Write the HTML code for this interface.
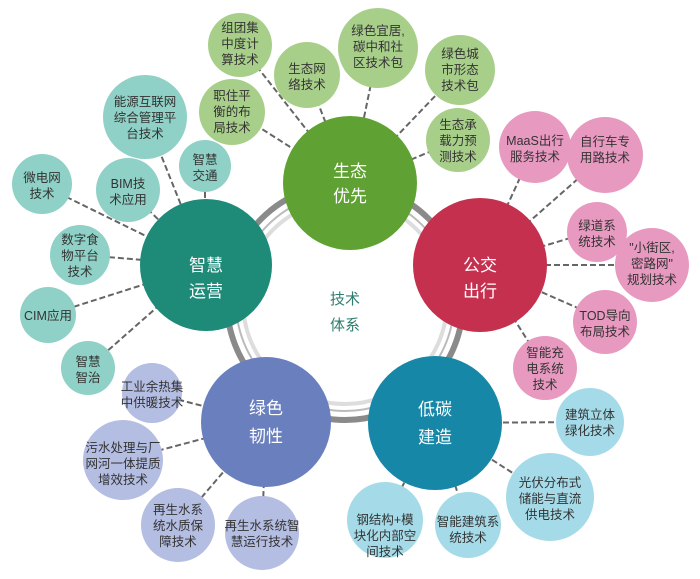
<!DOCTYPE html>
<html><head><meta charset="utf-8"><style>
html,body{margin:0;padding:0;background:#fff;}
svg{display:block}
text{font-family:"Liberation Sans","Noto Sans CJK SC",sans-serif;text-anchor:middle;}
.s{font-size:12.5px;fill:#333;}
.m{font-size:17px;fill:#fff;}
</style></head><body>
<svg width="700" height="579" viewBox="0 0 700 579">
<g stroke="#666" stroke-width="2" stroke-dasharray="6,3" fill="none">
<!-- green -->
<line x1="240" y1="45" x2="350" y2="185"/>
<line x1="307" y1="75" x2="350" y2="185"/>
<line x1="378" y1="50" x2="350" y2="185"/>
<line x1="460" y1="70" x2="350" y2="185"/>
<line x1="232" y1="110" x2="350" y2="185"/>
<line x1="458" y1="140" x2="350" y2="185"/>
<!-- teal -->
<line x1="145" y1="115" x2="205" y2="265"/>
<line x1="205" y1="165" x2="205" y2="265"/>
<line x1="128" y1="190" x2="205" y2="265"/>
<line x1="42" y1="185" x2="205" y2="265"/>
<line x1="82" y1="255" x2="205" y2="265"/>
<line x1="48" y1="315" x2="205" y2="265"/>
<line x1="88" y1="368" x2="205" y2="265"/>
<!-- pink -->
<line x1="535" y1="145" x2="480" y2="265"/>
<line x1="605" y1="155" x2="480" y2="265"/>
<line x1="597" y1="230" x2="480" y2="265"/>
<line x1="650" y1="265" x2="480" y2="265"/>
<line x1="605" y1="320" x2="480" y2="265"/>
<line x1="545" y1="368" x2="480" y2="265"/>
<!-- blue -->
<line x1="590" y1="422" x2="435" y2="423"/>
<line x1="550" y1="497" x2="435" y2="423"/>
<line x1="468" y1="525" x2="435" y2="423"/>
<line x1="385" y1="520" x2="435" y2="423"/>
<!-- lavender -->
<line x1="152" y1="393" x2="266" y2="422"/>
<line x1="123" y1="460" x2="266" y2="422"/>
<line x1="178" y1="525" x2="266" y2="422"/>
<line x1="262" y1="533" x2="266" y2="422"/>
</g>
<!-- ring -->
<circle cx="345" cy="302" r="118" fill="none" stroke="#8a8a8a" stroke-width="6"/>
<circle cx="345" cy="302" r="109" fill="none" stroke="#bbb" stroke-width="2"/>
<circle cx="345" cy="302" r="102" fill="none" stroke="#ddd" stroke-width="4"/>
<text x="345" y="304" style="font-size:15px;fill:#2e7d6e">技术</text>
<text x="345" y="330" style="font-size:15px;fill:#2e7d6e">体系</text>
<!-- main circles -->
<circle cx="350" cy="183" r="67" fill="#5fa233"/>
<text class="m" x="350" y="177">生态</text><text class="m" x="350" y="202">优先</text>
<circle cx="480" cy="265" r="67" fill="#c5304f"/>
<text class="m" x="480" y="271">公交</text><text class="m" x="480" y="297">出行</text>
<circle cx="206" cy="265" r="66" fill="#1e8a78"/>
<text class="m" x="206" y="271">智慧</text><text class="m" x="206" y="297">运营</text>
<circle cx="266" cy="422" r="65" fill="#6a7fbe"/>
<text class="m" x="266" y="414">绿色</text><text class="m" x="266" y="442">韧性</text>
<circle cx="435" cy="423" r="67" fill="#1787a8"/>
<text class="m" x="435" y="415">低碳</text><text class="m" x="435" y="443">建造</text>
<!-- green small -->
<g fill="#a8cf8a">
<circle cx="240" cy="45" r="32"/><circle cx="307" cy="75" r="33"/><circle cx="378" cy="48" r="40"/>
<circle cx="460" cy="70" r="35"/><circle cx="232" cy="112" r="33"/><circle cx="458" cy="140" r="32"/>
</g>
<g class="s">
<text class="s" x="240" y="32">组团集</text><text class="s" x="240" y="48">中度计</text><text class="s" x="240" y="64">算技术</text>
<text class="s" x="307" y="73">生态网</text><text class="s" x="307" y="89">络技术</text>
<text class="s" x="378" y="35">绿色宜居,</text><text class="s" x="378" y="51">碳中和社</text><text class="s" x="378" y="67">区技术包</text>
<text class="s" x="460" y="58">绿色城</text><text class="s" x="460" y="74">市形态</text><text class="s" x="460" y="90">技术包</text>
<text class="s" x="232" y="100">职住平</text><text class="s" x="232" y="116">衡的布</text><text class="s" x="232" y="132">局技术</text>
<text class="s" x="458" y="129">生态承</text><text class="s" x="458" y="145">载力预</text><text class="s" x="458" y="161">测技术</text>
</g>
<!-- teal small -->
<g fill="#8fd1c6">
<circle cx="145" cy="117" r="42"/><circle cx="205" cy="166" r="26"/><circle cx="128" cy="190" r="32"/>
<circle cx="42" cy="184" r="30"/><circle cx="80" cy="255" r="30"/><circle cx="48" cy="315" r="28"/><circle cx="88" cy="368" r="27"/>
</g>
<text class="s" x="145" y="106">能源互联网</text><text class="s" x="145" y="122">综合管理平</text><text class="s" x="145" y="138">台技术</text>
<text class="s" x="205" y="164">智慧</text><text class="s" x="205" y="180">交通</text>
<text class="s" x="128" y="188">BIM技</text><text class="s" x="128" y="204">术应用</text>
<text class="s" x="42" y="182">微电网</text><text class="s" x="42" y="198">技术</text>
<text class="s" x="80" y="244">数字食</text><text class="s" x="80" y="260">物平台</text><text class="s" x="80" y="276">技术</text>
<text class="s" x="48" y="320">CIM应用</text>
<text class="s" x="88" y="366">智慧</text><text class="s" x="88" y="382">智治</text>
<!-- pink small -->
<g fill="#e899c0">
<circle cx="535" cy="147" r="36"/><circle cx="605" cy="155" r="38"/><circle cx="597" cy="232" r="30"/>
<circle cx="652" cy="265" r="37"/><circle cx="605" cy="322" r="32"/><circle cx="545" cy="368" r="32"/>
</g>
<text class="s" x="535" y="145">MaaS出行</text><text class="s" x="535" y="161">服务技术</text>
<text class="s" x="605" y="146">自行车专</text><text class="s" x="605" y="162">用路技术</text>
<text class="s" x="597" y="230">绿道系</text><text class="s" x="597" y="246">统技术</text>
<text class="s" x="652" y="252">"小街区,</text><text class="s" x="652" y="268">密路网"</text><text class="s" x="652" y="284">规划技术</text>
<text class="s" x="605" y="320">TOD导向</text><text class="s" x="605" y="336">布局技术</text>
<text class="s" x="545" y="357">智能充</text><text class="s" x="545" y="373">电系统</text><text class="s" x="545" y="389">技术</text>
<!-- blue small -->
<g fill="#a5dbe8">
<circle cx="590" cy="422" r="34"/><circle cx="550" cy="497" r="44"/><circle cx="468" cy="525" r="33"/><circle cx="385" cy="520" r="38"/>
</g>
<text class="s" x="590" y="419">建筑立体</text><text class="s" x="590" y="435">绿化技术</text>
<text class="s" x="550" y="487">光伏分布式</text><text class="s" x="550" y="503">储能与直流</text><text class="s" x="550" y="519">供电技术</text>
<text class="s" x="468" y="526">智能建筑系</text><text class="s" x="468" y="542">统技术</text>
<text class="s" x="385" y="524">钢结构+模</text><text class="s" x="385" y="540">块化内部空</text><text class="s" x="385" y="556">间技术</text>
<!-- lavender small -->
<g fill="#b4bde2">
<circle cx="152" cy="393" r="30"/><circle cx="123" cy="460" r="40"/><circle cx="178" cy="525" r="37"/><circle cx="262" cy="533" r="37"/>
</g>
<text class="s" x="152" y="391">工业余热集</text><text class="s" x="152" y="407">中供暖技术</text>
<text class="s" x="123" y="452">污水处理与厂</text><text class="s" x="123" y="468">网河一体提质</text><text class="s" x="123" y="484">增效技术</text>
<text class="s" x="178" y="514">再生水系</text><text class="s" x="178" y="530">统水质保</text><text class="s" x="178" y="546">障技术</text>
<text class="s" x="262" y="530">再生水系统智</text><text class="s" x="262" y="546">慧运行技术</text>
</svg>
</body></html>
